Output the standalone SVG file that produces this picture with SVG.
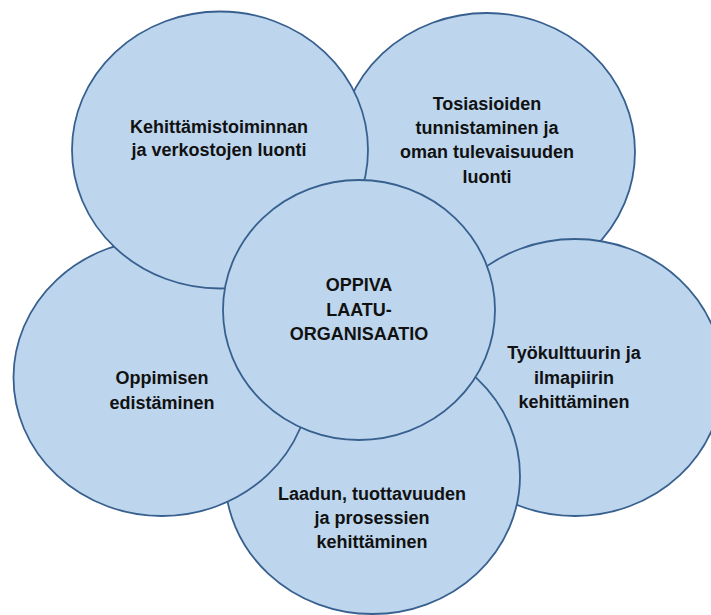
<svg xmlns="http://www.w3.org/2000/svg" width="711" height="615" viewBox="0 0 711 615">
  <style>
    .bubble { fill: #bdd6ee; stroke: #38608f; stroke-width: 1.8; }
    .label { font-family: "Liberation Sans", Arial, sans-serif; font-weight: bold; font-size: 18px; fill: #111111; text-anchor: middle; }
  </style>
  <rect width="711" height="615" fill="#ffffff"/>
  <g id="connectors"/>
  <!-- outer ring, drawn back to front so the overlaps stack correctly -->
  <g id="node-tosiasioiden">
    <ellipse class="bubble" cx="487" cy="152" rx="148" ry="139"/>
    <text class="label" x="487" y="110">Tosiasioiden</text>
    <text class="label" x="487" y="134">tunnistaminen ja</text>
    <text class="label" x="487" y="158">oman tulevaisuuden</text>
    <text class="label" x="487" y="183">luonti</text>
  </g>
  <g id="node-tyokulttuuri">
    <ellipse class="bubble" cx="575" cy="377.5" rx="148" ry="138.5"/>
    <text class="label" x="574" y="359">Työkulttuurin ja</text>
    <text class="label" x="574" y="384">ilmapiirin</text>
    <text class="label" x="574" y="408">kehittäminen</text>
  </g>
  <g id="node-laatu">
    <ellipse class="bubble" cx="372.5" cy="476" rx="147.5" ry="138"/>
    <text class="label" x="372" y="500">Laadun, tuottavuuden</text>
    <text class="label" x="372" y="524">ja prosessien</text>
    <text class="label" x="372" y="548">kehittäminen</text>
  </g>
  <g id="node-oppiminen">
    <ellipse class="bubble" cx="162" cy="377.5" rx="148.5" ry="138.5"/>
    <text class="label" x="162" y="384">Oppimisen</text>
    <text class="label" x="162" y="409">edistäminen</text>
  </g>
  <g id="node-kehittamistoiminta">
    <ellipse class="bubble" cx="220" cy="150" rx="148" ry="138.5"/>
    <text class="label" x="219" y="133">Kehittämistoiminnan</text>
    <text class="label" x="219" y="156">ja verkostojen luonti</text>
  </g>
  <!-- centre -->
  <g id="node-oppiva-laatuorganisaatio">
    <ellipse class="bubble" cx="359" cy="310" rx="136" ry="130"/>
    <text class="label" x="359" y="291">OPPIVA</text>
    <text class="label" x="359" y="316">LAATU-</text>
    <text class="label" x="359" y="340">ORGANISAATIO</text>
  </g>
</svg>
